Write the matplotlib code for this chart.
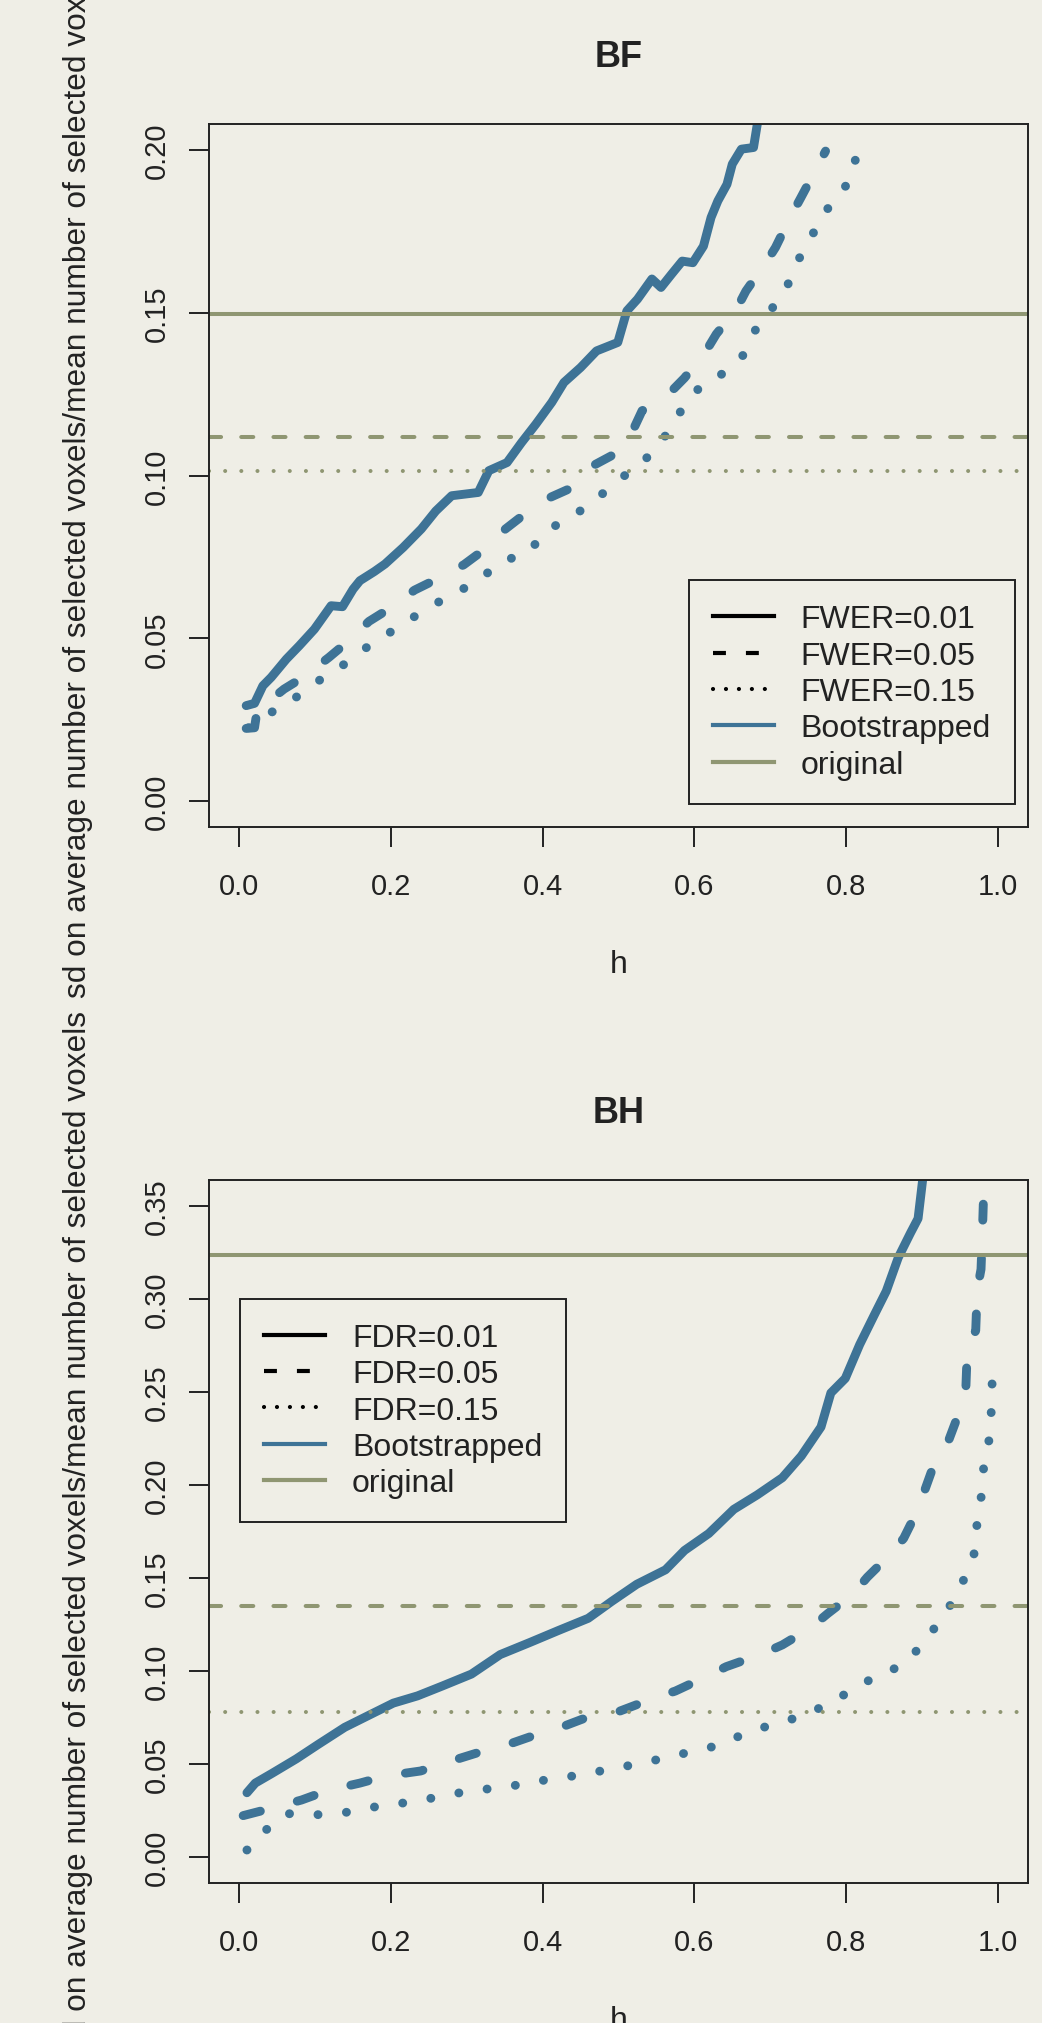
import matplotlib
matplotlib.use('Agg')
import matplotlib.pyplot as plt
from matplotlib.lines import Line2D

BG = '#EFEEE6'
BLUE = '#3E7396'
GREEN = '#8F9672'
INK = '#222222'

plt.rcParams['font.family'] = ['Liberation Sans', 'DejaVu Sans']

h_ticks = [0.0, 0.2, 0.4, 0.6, 0.8, 1.0]

# ---- BF panel ----
bf_h_01 = [0.009, 0.020, 0.031, 0.042, 0.062, 0.079, 0.099, 0.121, 0.136, 0.150,
           0.159, 0.178, 0.192, 0.216, 0.240, 0.259, 0.280, 0.315, 0.329, 0.353,
           0.372, 0.391, 0.412, 0.428, 0.450, 0.471, 0.499, 0.511, 0.525, 0.544,
           0.556, 0.570, 0.584, 0.598, 0.612, 0.622, 0.631, 0.643, 0.650, 0.662,
           0.678, 0.683, 0.686]
bf_sd_01 = [0.0293, 0.0300, 0.0354, 0.0380, 0.0436, 0.0477, 0.0528, 0.0600, 0.0597, 0.0651,
            0.0677, 0.0705, 0.0728, 0.0779, 0.0836, 0.0891, 0.0938, 0.0948, 0.1015, 0.1040,
            0.1101, 0.1158, 0.1225, 0.1286, 0.1332, 0.1383, 0.1409, 0.1506, 0.1542, 0.1604,
            0.1578, 0.1619, 0.1659, 0.1654, 0.1705, 0.1793, 0.1844, 0.1895, 0.1957, 0.2003,
            0.2008, 0.2080, 0.2200]

bf_h_05 = [0.009, 0.020, 0.024, 0.030, 0.059, 0.084, 0.118, 0.139, 0.171, 0.195,
           0.231, 0.258, 0.296, 0.318, 0.351, 0.372, 0.410, 0.435, 0.466, 0.490,
           0.518, 0.531, 0.568, 0.587, 0.615, 0.629, 0.655, 0.668, 0.694, 0.707,
           0.727, 0.740, 0.761, 0.773]
bf_sd_05 = [0.0223, 0.0225, 0.0288, 0.0290, 0.0344, 0.0380, 0.0441, 0.0482, 0.0552, 0.0587,
            0.0648, 0.0679, 0.0726, 0.0764, 0.0836, 0.0874, 0.0933, 0.0959, 0.1030, 0.1060,
            0.1134, 0.1199, 0.1255, 0.1300, 0.1381, 0.1435, 0.1509, 0.1567, 0.1653, 0.1701,
            0.1796, 0.1852, 0.1944, 0.1997]

bf_h_15 = [0.012, 0.039, 0.071, 0.100, 0.131, 0.160, 0.190, 0.221, 0.252, 0.285,
           0.317, 0.344, 0.381, 0.403, 0.435, 0.466, 0.493, 0.522, 0.549, 0.569,
           0.587, 0.610, 0.642, 0.667, 0.682, 0.701, 0.721, 0.734, 0.752, 0.767,
           0.790, 0.810, 0.815]
bf_sd_15 = [0.0225, 0.0268, 0.0312, 0.0363, 0.0407, 0.0460, 0.0505, 0.0552, 0.0598, 0.0639,
            0.0680, 0.0735, 0.0762, 0.0828, 0.0870, 0.0916, 0.0975, 0.1023, 0.1079, 0.1147,
            0.1217, 0.1279, 0.1319, 0.1376, 0.1455, 0.1509, 0.1573, 0.1651, 0.1720, 0.1797,
            0.1857, 0.1926, 0.2024]

bf_orig = [0.1497, 0.1117, 0.1015]   # FWER 0.01, 0.05, 0.15
bf_yticks = [0.00, 0.05, 0.10, 0.15, 0.20]

# ---- BH panel ----
bh_h_01 = [0.010, 0.021, 0.043, 0.075, 0.104, 0.139, 0.171, 0.203, 0.235, 0.267,
           0.306, 0.344, 0.383, 0.421, 0.460, 0.491, 0.524, 0.562, 0.587, 0.619,
           0.652, 0.683, 0.716, 0.741, 0.767, 0.780, 0.799, 0.818, 0.837, 0.853,
           0.869, 0.885, 0.895, 0.901, 0.903]
bh_sd_01 = [0.0345, 0.0397, 0.0449, 0.0527, 0.0605, 0.0697, 0.0762, 0.0827, 0.0866, 0.0918,
            0.0983, 0.1088, 0.1153, 0.1218, 0.1283, 0.1374, 0.1466, 0.1544, 0.1648, 0.1739,
            0.1869, 0.1947, 0.2039, 0.2156, 0.2312, 0.2495, 0.2573, 0.2755, 0.2912, 0.3042,
            0.3224, 0.3355, 0.3433, 0.3640, 0.3800]

bh_h_05 = [0.005, 0.040, 0.082, 0.117, 0.159, 0.194, 0.239, 0.274, 0.315, 0.349,
           0.392, 0.424, 0.466, 0.501, 0.543, 0.575, 0.616, 0.642, 0.687, 0.716,
           0.753, 0.776, 0.809, 0.828, 0.857, 0.876, 0.895, 0.904, 0.920, 0.936,
           0.951, 0.958, 0.960, 0.971, 0.973, 0.978, 0.980, 0.981]
bh_sd_05 = [0.0222, 0.0259, 0.0306, 0.0358, 0.0397, 0.0436, 0.0462, 0.0509, 0.0561, 0.0597,
            0.0658, 0.0697, 0.0762, 0.0783, 0.0848, 0.0892, 0.0970, 0.1023, 0.1088, 0.1140,
            0.1231, 0.1309, 0.1413, 0.1504, 0.1621, 0.1713, 0.1869, 0.1974, 0.2156, 0.2247,
            0.2410, 0.2520, 0.2740, 0.2830, 0.3050, 0.3160, 0.3380, 0.3510]

bh_h_15 = [0.010, 0.034, 0.061, 0.103, 0.144, 0.185, 0.226, 0.267, 0.307, 0.349,
           0.389, 0.430, 0.470, 0.510, 0.550, 0.589, 0.629, 0.664, 0.701, 0.740,
           0.774, 0.806, 0.838, 0.874, 0.899, 0.920, 0.940, 0.956, 0.969, 0.973,
           0.979, 0.982, 0.990, 0.992, 0.993]
bh_sd_15 = [0.0037, 0.0141, 0.0233, 0.0227, 0.0241, 0.0274, 0.0295, 0.0326, 0.0358, 0.0373,
            0.0405, 0.0428, 0.0457, 0.0488, 0.0522, 0.0559, 0.0597, 0.0658, 0.0710, 0.0754,
            0.0817, 0.0892, 0.0968, 0.1030, 0.1134, 0.1249, 0.1369, 0.1497, 0.1632, 0.1803,
            0.1956, 0.2124, 0.2267, 0.2440, 0.2612]

bh_orig = [0.3235, 0.1350, 0.0777]   # FDR 0.01, 0.05, 0.15
bh_yticks = [0.00, 0.05, 0.10, 0.15, 0.20, 0.25, 0.30, 0.35]

YLAB = 'sd on average number of selected voxels/mean number of selected voxels'

# line styles: (dash pattern in linewidth units)
CURVE_LW = 6.4
CURVE_STYLES = [None, (2.0, 4.3), (0.01, 3.2)]
HLINE_LW = 2.9
HLINE_STYLES = [None, (3.0, 5.0), (0.01, 4.0)]


def draw_panel(ax, title, curves, orig, yticks, ymax, labels, legend_loc, legend_anchor):
    ax.set_facecolor(BG)
    for (hx, sy), dash in zip(curves, CURVE_STYLES):
        line, = ax.plot(hx, sy, color=BLUE, lw=CURVE_LW,
                        solid_capstyle='round', solid_joinstyle='round')
        if dash is not None:
            line.set_dashes(dash)
            line.set_dash_capstyle('round')
    for val, dash in zip(orig, HLINE_STYLES):
        line = ax.axhline(val, color=GREEN, lw=HLINE_LW, solid_capstyle='butt')
        if dash is not None:
            line.set_dashes(dash)
            line.set_dash_capstyle('round')

    ax.set_xlim(-0.04, 1.04)
    ax.set_ylim(-0.04 * ymax, 1.04 * ymax)
    ax.set_xticks(h_ticks)
    ax.set_xticklabels([f'{t:.1f}' for t in h_ticks])
    ax.set_yticks(yticks)
    ax.set_yticklabels([f'{t:.2f}' for t in yticks], rotation=90, va='center')
    ax.tick_params(axis='both', direction='out', length=14.4, width=1.4,
                   color=INK, labelcolor=INK, labelsize=21)
    ax.tick_params(axis='x', pad=18)
    ax.tick_params(axis='y', pad=13)
    for sp in ax.spines.values():
        sp.set_color(INK)
        sp.set_linewidth(1.4)

    ax.set_title(title, fontsize=26, fontweight='bold', color=INK, pad=42)
    ax.set_xlabel('h', fontsize=23, color=INK, labelpad=35)
    ax.set_ylabel(YLAB, fontsize=22.8, color=INK, labelpad=36)

    handles = [
        Line2D([], [], color='black', lw=3.0),
        Line2D([], [], color='black', lw=3.0, dashes=(3.1, 4.8)),
        Line2D([], [], color='black', lw=3.0, dashes=(0.01, 3.1), dash_capstyle='round'),
        Line2D([], [], color=BLUE, lw=3.0),
        Line2D([], [], color=GREEN, lw=3.0),
    ]
    leg = ax.legend(handles, labels + ['Bootstrapped', 'original'],
                    loc=legend_loc, bbox_to_anchor=legend_anchor, borderaxespad=0,
                    fontsize=23, frameon=True, fancybox=False, framealpha=1,
                    facecolor=BG, edgecolor=INK, handlelength=1.9,
                    handletextpad=0.85, labelspacing=0.2, borderpad=0.75,
                    labelcolor=INK)
    leg.get_frame().set_linewidth(1.4)


fig = plt.figure(figsize=(10.42, 20.24), dpi=100, facecolor=BG)
ax1 = fig.add_axes([0.2006, 0.5909, 0.786, 0.3473])
ax2 = fig.add_axes([0.2006, 0.0692, 0.786, 0.3473])

draw_panel(ax1, 'BF',
           [(bf_h_01, bf_sd_01), (bf_h_05, bf_sd_05), (bf_h_15, bf_sd_15)],
           bf_orig, bf_yticks, 0.20,
           ['FWER=0.01', 'FWER=0.05', 'FWER=0.15'],
           'lower right', (0.984, 0.033))
draw_panel(ax2, 'BH',
           [(bh_h_01, bh_sd_01), (bh_h_05, bh_sd_05), (bh_h_15, bh_sd_15)],
           bh_orig, bh_yticks, 0.35,
           ['FDR=0.01', 'FDR=0.05', 'FDR=0.15'],
           'upper left', (0.038, 0.831))

fig.savefig('out.png', dpi=100, facecolor=BG)
